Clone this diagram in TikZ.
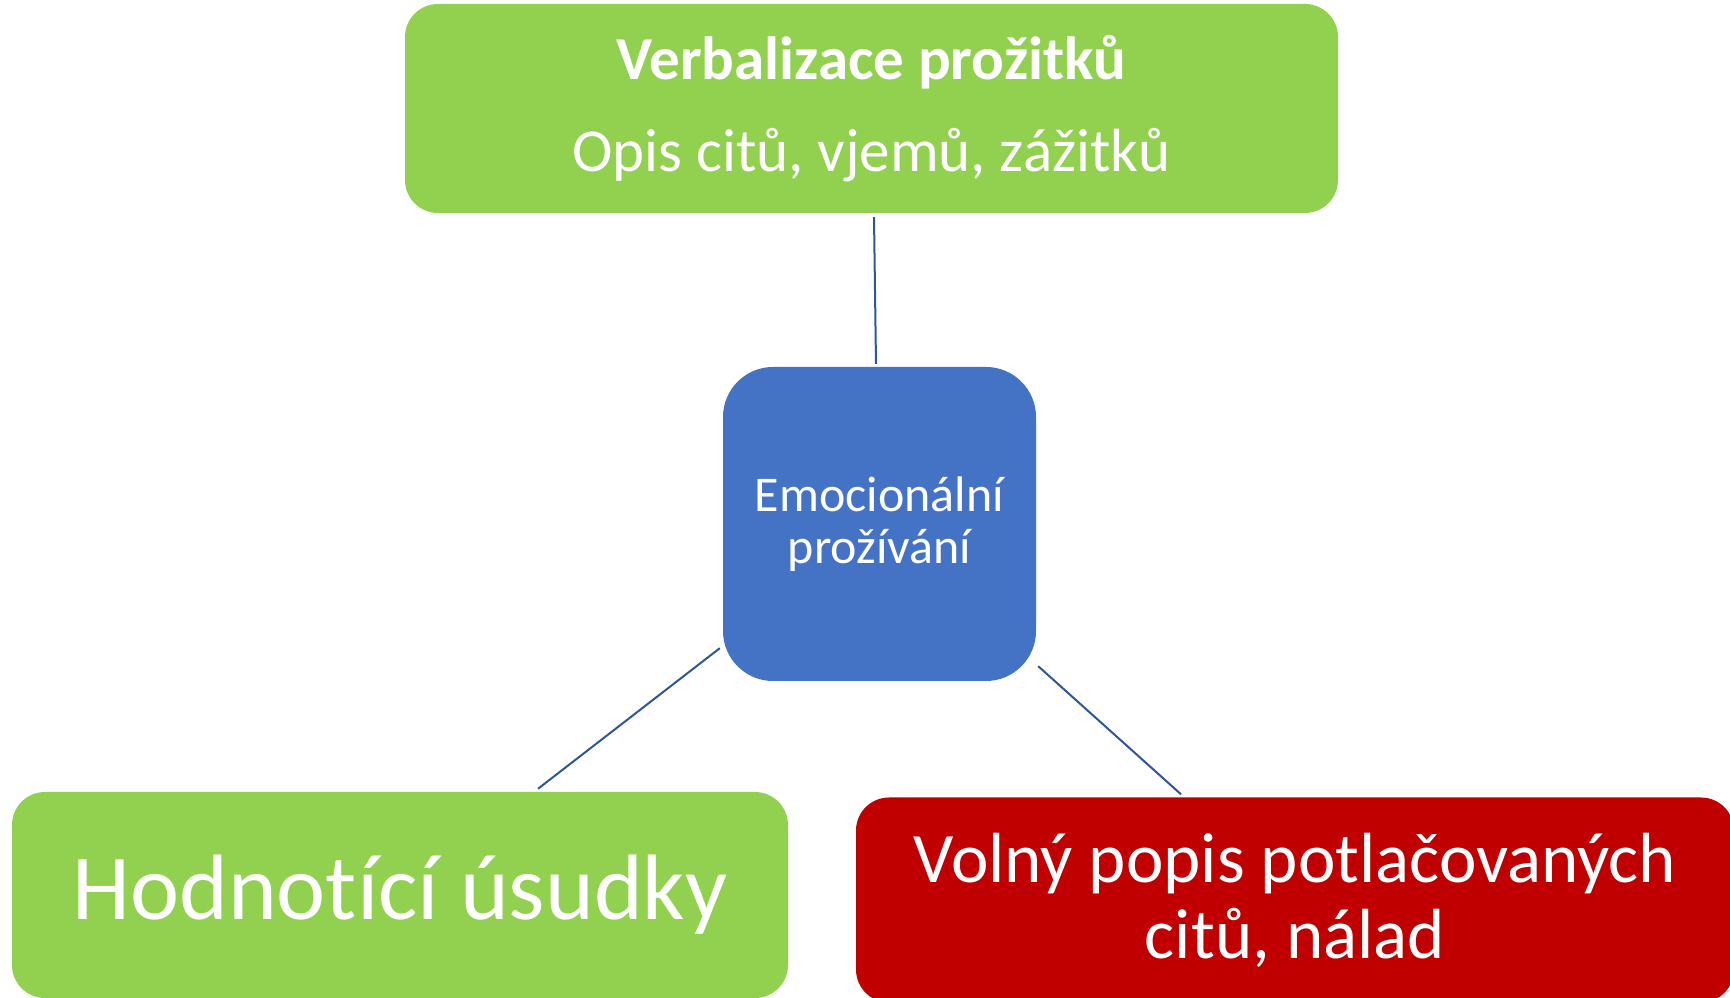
\documentclass[tikz,border=0pt]{standalone}
\usepackage{fontspec}
\setmainfont{Carlito}[Ligatures={NoCommon}]
\usepackage{tikz}
\usetikzlibrary{positioning,calc}

\definecolor{boxgreen}{HTML}{92D050}
\definecolor{boxblue}{HTML}{4472C4}
\definecolor{boxred}{HTML}{C00000}
\definecolor{linkblue}{HTML}{2F5597}

\tikzset{
  box/.style={rectangle, rounded corners=33pt, text=white, align=center, inner sep=0pt},
  link/.style={draw=linkblue, line width=2pt}
}

\begin{document}
\begin{tikzpicture}[x=1pt,y=1pt]
    \useasboundingbox (0,0) rectangle (1730,998);

    % Top box
    \node [box, fill=boxgreen, minimum width=933pt, minimum height=209pt,
           font=\fontsize{61}{92}\selectfont] (verbal) at (871.5,889.5)
          {\textbf{Verbalizace prožitků}\\Opis citů, vjemů, zážitků};

    % Center
    \node [box, fill=boxblue, rounded corners=50pt, minimum width=313pt, minimum height=314pt,
           font=\fontsize{50}{52}\selectfont] (emoce) at (879.5,474)
          {Emocionální\\prožívání};

    % Bottom boxes
    \node [box, fill=boxgreen, minimum width=776pt, minimum height=206pt,
           font=\fontsize{93}{100}\selectfont] (hodnot) at (400,103)
          {Hodnotící úsudky};
    \node [box, fill=boxred, minimum width=878pt, minimum height=205pt,
           font=\fontsize{71}{76}\selectfont] (volny) at (1295,98)
          {Volný popis potlačovaných\\citů, nálad};

    % Connectors
    \draw [link] ([shift={(2.5,-4)}]verbal.south) -- ([shift={(-3.5,3)}]emoce.north);
    \draw [link] ([shift={(-3,33)}]emoce.south west) -- ([shift={(138,3)}]hodnot.north);
    \draw [link] ([shift={(2,15)}]emoce.south east) -- ([shift={(-114,3)}]volny.north);
\end{tikzpicture}
\end{document}
